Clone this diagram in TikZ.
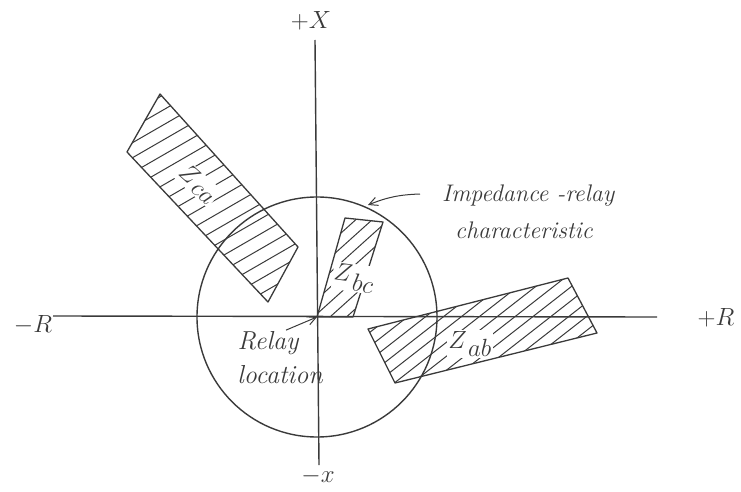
\documentclass[tikz,border=0pt]{standalone}
\usepackage{tikz}
\usetikzlibrary{arrows.meta, positioning}
\definecolor{ink}{HTML}{3A3A3A}
\newcommand{\zname}[1]{$Z_{\kern3pt\textstyle #1}$}

\begin{document}
\begin{tikzpicture}[
    x=1pt, y=-1pt,
    every node/.style={font=\fontsize{24}{28}\selectfont\itshape, ink},
    axis/.style={ink, line width=1.4pt},
    zone/.style={ink, line width=1.3pt, line join=round},
    hatch/.style={ink, line width=1pt},
    lbl/.style={font=\fontsize{24}{28}\selectfont\itshape, ink, inner sep=1pt},
    arr/.style={-{Straight Barb[length=3mm, width=3mm]}, ink, line width=1pt}
  ]
  \useasboundingbox (0,0) rectangle (741,492);

  % axes and the relay circle
  \coordinate (o) at (317,317);
  \coordinate (west) at (53,316);
  \coordinate (east) at (657,317);
  \coordinate (north) at (315,40);
  \coordinate (south) at (319,465);
  \draw[axis] (west) -- (east);
  \draw[axis] (north) -- (south);
  \draw[axis] (o) circle[radius=120];

  \node[lbl] (mr) at (33,325) {$-R$};
  \node[lbl] (pr) at (716,318) {$+R$};
  \node[lbl] (px) at (311,21) {$+X$};
  \node[lbl] (mx) at (318,476) {$-x$};

  % Zca
  \draw[zone] (160,94) -- (298,247) -- (268,302) -- (127,152) -- cycle;
  \begin{scope}
    \clip (160,94) -- (298,247) -- (268,302) -- (127,152) -- cycle;
    \foreach \t in {-180,-167,...,180}
      \draw[hatch, shift={(213,199)}, rotate=30] (-200,\t) -- (200,\t);
  \end{scope}

  % Zbc
  \draw[zone] (317,317) -- (345,218) -- (383,222) -- (353,317) -- cycle;
  \begin{scope}
    \clip (317,317) -- (345,218) -- (383,222) -- (353,317) -- cycle;
    \foreach \t in {-120,-109,...,120}
      \draw[hatch, shift={(350,268)}, rotate=42] (-150,\t) -- (150,\t);
  \end{scope}

  % Zab
  \draw[zone] (368,329) -- (568,278) -- (597,333) -- (395,383) -- cycle;
  \begin{scope}
    \clip (368,329) -- (568,278) -- (597,333) -- (395,383) -- cycle;
    \foreach \t in {-200,-189,...,200}
      \draw[hatch, shift={(482,331)}, rotate=38] (-250,\t) -- (250,\t);
  \end{scope}

  \node[lbl, fill=white, rotate=-42] (zca) at (198,184) {\zname{ca}};
  \node[lbl, fill=white, rotate=-8] (zbc) at (354,278) {\zname{bc}};
  \node[lbl, fill=white] (zab) at (470,344) {\zname{ab}};

  % annotations
  \node[anchor=west, inner sep=0pt] (imp) at (442,196) {Impedance -relay};
  \node[anchor=west, inner sep=0pt] (chr) at (455,230) {characteristic};
  \coordinate (rim) at (368,205);
  \draw[arr] ([xshift=-22pt, yshift=2pt]imp.west) to[bend right=10] (rim);

  \node[lbl, font=\fontsize{26}{30}\selectfont\itshape] (rel) at (268,343) {Relay};
  \node[lbl, font=\fontsize{26}{30}\selectfont\itshape] (loc) at (280,375) {location};
  \draw[arr] ([xshift=18pt]rel.north) -- (o);
\end{tikzpicture}
\end{document}
